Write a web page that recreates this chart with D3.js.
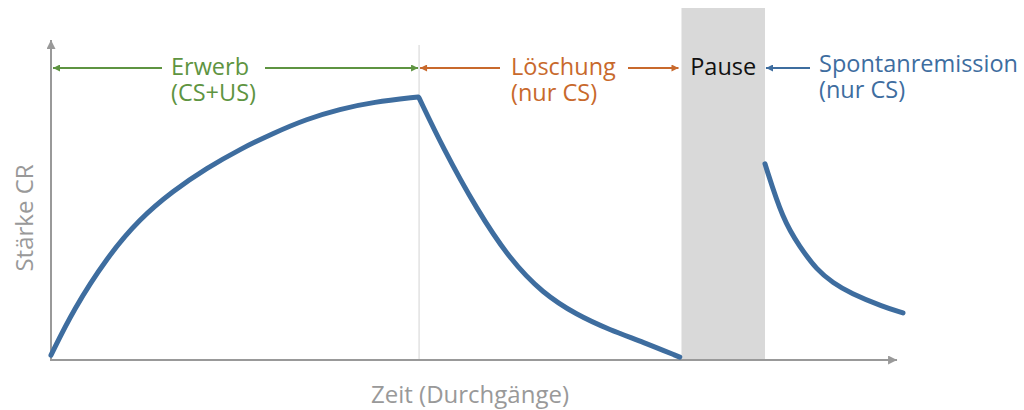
<!DOCTYPE html>
<html>
<head>
<meta charset="utf-8">
<script src="https://cdn.jsdelivr.net/npm/d3@7"></script>
<style>
  * { margin: 0; padding: 0; }
  body { background: #fff; }
  svg text { font-family: "Open Sans", sans-serif; }
</style>
</head>
<body>
<div id="chart"></div>
<script>
// phase boundaries (x in % of time axis)
var phaseBounds = [0, 43.2, 74, 83.8, 100];

// curve values
var acqX = [0, 2.6, 6.6, 10.4, 14.3, 18.3, 22.2, 26.1, 30, 33.9, 37.8, 43.1];
var acqY = [1.5, 15.6, 32.2, 44.1, 52.8, 60, 65.9, 70.9, 75.3, 78.4, 80.6, 82.2];

var extX = [43.2, 46, 50, 53.9, 57.7, 61.7, 65.6, 69.5, 73.8];
var extY = [81.9, 66.3, 46.9, 31.3, 20.9, 14.1, 9.4, 5.6, 0.9];

var recX = [83.8, 85.9, 87.9, 89.9, 91.8, 93.8, 97.7, 100];
var recY = [61.3, 43.8, 35.3, 28.1, 24.1, 20.9, 16.6, 14.7];

var phaseLabels = [["Erwerb", "(CS+US)"], ["Löschung", "(nur CS)"], ["Pause"], ["Spontanremission", "(nur CS)"]];

var W = 1024, H = 410;

var svg = d3.select("#chart").append("svg")
    .attr("width", W)
    .attr("height", H);

var x = d3.scaleLinear().domain([0, 100]).range([51, 903]);
var y = d3.scaleLinear().domain([0, 100]).range([360, 40]);

function pts(xs, ys) {
    return xs.map(function (v, i) { return [v, ys[i]]; });
}

var defs = svg.append("defs");
function marker(id, color, w, h) {
    defs.append("marker")
        .attr("id", id)
        .attr("viewBox", "0 0 10 10")
        .attr("refX", 10).attr("refY", 5)
        .attr("markerWidth", w).attr("markerHeight", h)
        .attr("markerUnits", "userSpaceOnUse")
        .attr("orient", "auto-start-reverse")
        .append("path")
        .attr("d", "M0,0L10,5L0,10Z")
        .attr("fill", color);
}
marker("a-axis", "#999", 10, 9);
marker("a-green", "#5e9441", 9, 7);
marker("a-orange", "#c8692c", 9, 7);
marker("a-blue", "#3e6d9f", 9, 7);

// pause band
svg.append("rect")
    .attr("x", x(phaseBounds[2]))
    .attr("y", 8)
    .attr("width", x(phaseBounds[3]) - x(phaseBounds[2]))
    .attr("height", y(0) - 8)
    .attr("fill", "#d9d9d9");

// thin divider at end of acquisition
svg.append("line")
    .attr("x1", x(phaseBounds[1])).attr("x2", x(phaseBounds[1]))
    .attr("y1", 45).attr("y2", y(0))
    .attr("stroke", "#d3d3d3").attr("stroke-width", 1);

// axes
svg.append("line")
    .attr("x1", x(0)).attr("x2", x(0))
    .attr("y1", y(0) + 1).attr("y2", y(100))
    .attr("stroke", "#999").attr("stroke-width", 2)
    .attr("marker-end", "url(#a-axis)");
svg.append("line")
    .attr("x1", x(0) - 1).attr("x2", x(99.3))
    .attr("y1", y(0)).attr("y2", y(0))
    .attr("stroke", "#999").attr("stroke-width", 2)
    .attr("marker-end", "url(#a-axis)");

// curves
var line = d3.line()
    .x(function (d) { return x(d[0]); })
    .y(function (d) { return y(d[1]); })
    .curve(d3.curveBasis);

[pts(acqX, acqY), pts(extX, extY), pts(recX, recY)].forEach(function (seg) {
    svg.append("path")
        .datum(seg)
        .attr("d", line)
        .attr("fill", "none")
        .attr("stroke", "#3e6d9f")
        .attr("stroke-width", 5)
        .attr("stroke-linecap", "round")
        .attr("stroke-linejoin", "round");
});

// annotation arrows
var ay = 68;
function arrow(x1, x2, color, id) {
    svg.append("line")
        .attr("x1", x1).attr("x2", x2)
        .attr("y1", ay).attr("y2", ay)
        .attr("stroke", color).attr("stroke-width", 2)
        .attr("marker-end", "url(#" + id + ")");
}
arrow(162, x(phaseBounds[0]) + 2, "#5e9441", "a-green");
arrow(265, x(phaseBounds[1]) - 1, "#5e9441", "a-green");
arrow(500, x(phaseBounds[1]) + 1, "#c8692c", "a-orange");
arrow(628, x(phaseBounds[2]) - 3, "#c8692c", "a-orange");
arrow(810, x(phaseBounds[3]) + 1, "#3e6d9f", "a-blue");

function label(lines, lx, by, color, anchor) {
    lines.forEach(function (s, i) {
        svg.append("text")
            .attr("x", lx).attr("y", by + i * 26)
            .attr("fill", color)
            .attr("font-size", 23.5)
            .attr("text-anchor", anchor || "start")
            .text(s);
    });
}
label(phaseLabels[0], 171, 75, "#5e9441");
label(phaseLabels[1], 511, 75, "#c8692c");
label(phaseLabels[2], (x(phaseBounds[2]) + x(phaseBounds[3])) / 2, 75, "#111", "middle");
label(phaseLabels[3], 819, 72, "#3e6d9f");

// axis titles
svg.append("text")
    .attr("transform", "translate(33,218) rotate(-90)")
    .attr("text-anchor", "middle")
    .attr("fill", "#999")
    .attr("font-size", 24)
    .text("Stärke CR");

svg.append("text")
    .attr("x", 470).attr("y", 403)
    .attr("text-anchor", "middle")
    .attr("fill", "#999")
    .attr("font-size", 24)
    .text("Zeit (Durchgänge)");
</script>
</body>
</html>
